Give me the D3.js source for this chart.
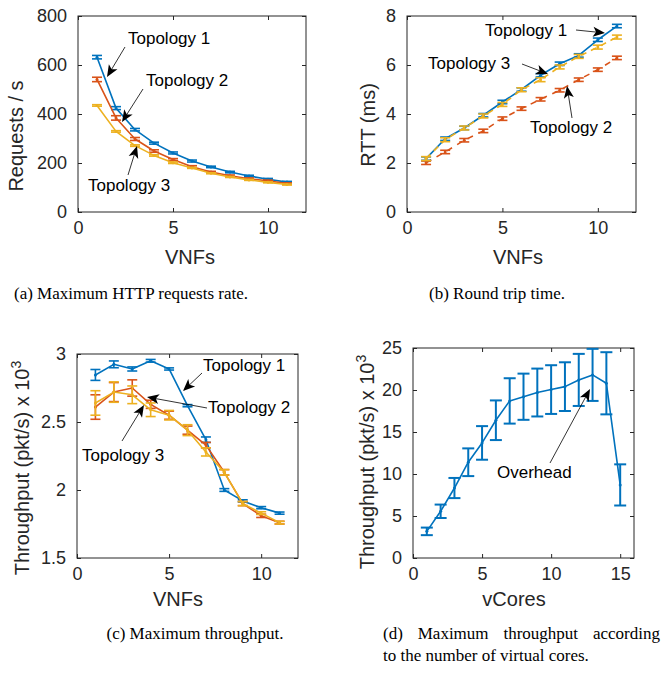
<!DOCTYPE html>
<html><head><meta charset="utf-8">
<script src="https://cdn.jsdelivr.net/npm/d3@7"></script>
<style>body{margin:0;background:#fff}svg{display:block}</style>
</head><body>
<script>
// ---------- DATA ----------
const vnfs = [1,2,3,4,5,6,7,8,9,10,11];
const reqT1 = [632,424,336,281,241,208,184,163,147,134,122];
const reqT2 = [541,384,298,249,214,185,163,148,136,127,116];
const reqT3 = [435,329,271,231,201,180,158,143,131,121,112];
const reqErrT1 = [7,6,5,4,4,4,3,3,3,3,3];
const reqErrT2 = [9,9,6,5,4,4,3,3,3,3,3];
const reqErrT3 = [3,3,3,3,3,2,2,2,2,2,2];

const rttT1 = [2.18,2.99,3.43,3.95,4.49,5.00,5.58,6.05,6.39,7.03,7.59];
const rttT2 = [2.01,2.45,2.93,3.31,3.81,4.22,4.60,4.97,5.40,5.81,6.29];
const rttT3 = [2.18,2.95,3.43,3.92,4.39,4.99,5.40,5.92,6.35,6.73,7.14];
const rttErrT1 = [0.07,0.07,0.07,0.07,0.07,0.07,0.07,0.07,0.07,0.07,0.07];
const rttErrT2 = [0.07,0.07,0.07,0.07,0.07,0.07,0.07,0.07,0.07,0.07,0.07];
const rttErrT3 = [0.08,0.08,0.08,0.08,0.08,0.08,0.08,0.08,0.08,0.08,0.08];

const thrT1 = [2.846,2.924,2.89,2.95,2.89,2.62,2.37,2.00,1.92,1.87,1.83];
const thrT2 = [2.61,2.72,2.75,2.63,2.55,2.44,2.33,2.13,1.90,1.81,1.76];
const thrT3 = [2.64,2.72,2.70,2.59,2.55,2.44,2.28,2.13,1.90,1.83,1.76];
const thrErrT1 = [0.04,0.025,0.015,0.01,0.008,0.008,0.02,0.01,0.008,0.008,0.008];
const thrErrT2 = [0.09,0.07,0.06,0.03,0.03,0.03,0.02,0.02,0.015,0.012,0.01];
const thrErrT3 = [0.09,0.075,0.065,0.05,0.035,0.04,0.03,0.02,0.015,0.01,0.01];

const vcores = [1,2,3,4,5,6,7,8,9,10,11,12,13,14,15];
const coreThr = [3.17,5.56,8.33,11.4,13.7,16.4,18.7,19.2,19.7,20.05,20.4,21.2,21.8,20.8,8.7];
const coreErr = [0.45,0.8,1.2,1.65,2.0,2.36,2.7,2.75,2.85,2.9,2.9,3.1,3.1,3.7,2.45];

const vnfTicks = [0,5,10];
const coreTicks = [0,5,10,15];
const reqTicks = [0,200,400,600,800];
const rttTicks = [0,2,4,6,8];
const thrTicks = [1.5,2,2.5,3];
const coreThrTicks = [0,5,10,15,20,25];

const captions = {
  a: "(a) Maximum HTTP requests rate.",
  b: "(b) Round trip time.",
  c: "(c) Maximum throughput.",
  d1: ["(d)","Maximum","throughput","according"],
  d2: "to the number of virtual cores."
};

// ---------- STYLE ----------
const BLUE = "#0072BD", RED = "#D95319", YEL = "#EDB120", AX = "#262626";
const SANS = "'Liberation Sans', Arial, Helvetica, sans-serif";
const SERIF = "'Liberation Serif', 'Times New Roman', serif";

const svg = d3.select("body").append("svg").attr("width",665).attr("height",675);
const defs = svg.append("defs");

function arrow(g, x1, y1, x2, y2) {
  const ang = Math.atan2(y2-y1, x2-x1);
  const L = 12, W = 5, N = 3;
  const ux = Math.cos(ang), uy = Math.sin(ang);
  const px = -uy, py = ux;
  const bx = x2 - ux*L, by = y2 - uy*L;
  g.append("line").attr("x1",x1).attr("y1",y1).attr("x2",x2-ux*L*0.6).attr("y2",y2-uy*L*0.6)
    .attr("stroke","#000").attr("stroke-width",0.8);
  const p = [[x2,y2],[bx+px*W - ux*0, by+py*W],[bx+ux*N, by+uy*N],[bx-px*W, by-py*W]];
  g.append("path").attr("d","M"+p.map(q=>q.join(",")).join("L")+"Z").attr("fill","#000");
}

function panel(cfg) {
  const g = svg.append("g");
  const x = d3.scaleLinear().domain(cfg.xd).range([cfg.x0, cfg.x1]);
  const y = d3.scaleLinear().domain(cfg.yd).range([cfg.y0, cfg.y1]);
  const tickFont = cfg.tickFont || 18;
  // box
  g.append("rect").attr("x",cfg.x0).attr("y",cfg.y1).attr("width",cfg.x1-cfg.x0).attr("height",cfg.y0-cfg.y1)
    .attr("fill","none").attr("stroke",AX).attr("stroke-width",1);
  // axes (ticks inside)
  const bottom = d3.axisBottom(x).tickValues(cfg.xt).tickSizeInner(-4).tickSizeOuter(0).tickPadding(9).tickFormat(d3.format("~g"));
  const left = d3.axisLeft(y).tickValues(cfg.yt).tickSizeInner(-4).tickSizeOuter(0).tickPadding(11).tickFormat(d3.format("~g"));
  const top = d3.axisTop(x).tickValues(cfg.xt).tickSizeInner(-4).tickSizeOuter(0).tickFormat("");
  const right = d3.axisRight(y).tickValues(cfg.yt).tickSizeInner(-4).tickSizeOuter(0).tickFormat("");
  [[bottom,`translate(0,${cfg.y0})`],[left,`translate(${cfg.x0},0)`],[top,`translate(0,${cfg.y1})`],[right,`translate(${cfg.x1},0)`]]
    .forEach(([ax,tr])=>{
      const a = g.append("g").attr("transform",tr).call(ax);
      a.select(".domain").remove();
      a.selectAll("line").attr("stroke",AX);
      a.selectAll("text").attr("fill",AX).style("font-family",SANS).style("font-size",tickFont+"px");
    });
  // series
  cfg.series.forEach(s=>{
    const pts = cfg.xs.map((v,i)=>[v, s.v[i], s.e[i]]);
    const line = d3.line().x(d=>x(d[0])).y(d=>y(d[1]));
    g.append("path").attr("d",line(pts)).attr("fill","none").attr("stroke",s.c)
      .attr("stroke-width",s.lw||1.6).attr("stroke-dasharray",s.dash||null).attr("stroke-linejoin","round");
    const cw = cfg.cap || 5;
    pts.forEach(d=>{
      const cx = x(d[0]), yt = y(d[1]+d[2]), yb = y(d[1]-d[2]);
      const eb = g.append("g").attr("stroke",s.c).attr("stroke-width",s.ew||1.6);
      eb.append("line").attr("x1",cx).attr("x2",cx).attr("y1",yt).attr("y2",yb);
      eb.append("line").attr("x1",cx-cw).attr("x2",cx+cw).attr("y1",yt).attr("y2",yt);
      eb.append("line").attr("x1",cx-cw).attr("x2",cx+cw).attr("y1",yb).attr("y2",yb);
      g.append("circle").attr("cx",cx).attr("cy",y(d[1])).attr("r",1.5).attr("fill",s.c);
    });
  });
  // labels
  g.append("text").attr("x",cfg.xl[0]).attr("y",cfg.xl[1]).attr("text-anchor","middle")
    .style("font-family",SANS).style("font-size","20px").attr("fill",AX).text(cfg.xlabel);
  const yl = g.append("text").attr("transform",`translate(${cfg.yl[0]},${cfg.yl[1]}) rotate(-90)`)
    .attr("text-anchor","middle").style("font-family",SANS).style("font-size","20px").attr("fill",AX);
  yl.append("tspan").text(cfg.ylabel);
  if (cfg.ysup) yl.append("tspan").attr("dy","-8").style("font-size","14px").text(cfg.ysup);
  // annotations
  (cfg.notes||[]).forEach(n=>{
    g.append("text").attr("x",n.tx).attr("y",n.ty).attr("dominant-baseline","central")
      .style("font-family",SANS).style("font-size","17px").attr("fill","#000").text(n.t);
    arrow(g, n.a[0], n.a[1], n.a[2], n.a[3]);
  });
}

panel({
  x0:78, x1:306, y0:212, y1:16, xd:[0,12], yd:[0,800], xt:vnfTicks, yt:reqTicks, xs:vnfs,
  series:[{v:reqT1,e:reqErrT1,c:BLUE},{v:reqT2,e:reqErrT2,c:RED},{v:reqT3,e:reqErrT3,c:YEL}],
  xlabel:"VNFs", xl:[190,264], ylabel:"Requests / s", yl:[23,136],
  notes:[
    {t:"Topology 1", tx:128, ty:38, a:[125,47,107,77]},
    {t:"Topology 2", tx:146, ty:80, a:[143,89,122,122]},
    {t:"Topology 3", tx:88, ty:185, a:[128,175,137,146]}
  ]
});
panel({
  x0:407, x1:636, y0:212, y1:16, xd:[0,12], yd:[0,8], xt:vnfTicks, yt:rttTicks, xs:vnfs,
  series:[{v:rttT2,e:rttErrT2,c:RED,dash:"6,6"},{v:rttT1,e:rttErrT1,c:BLUE},{v:rttT3,e:rttErrT3,c:YEL,dash:"6,5"}],
  xlabel:"VNFs", xl:[518,264], ylabel:"RTT (ms)", yl:[375,125],
  notes:[
    {t:"Topology 1", tx:485, ty:30, a:[576,30,605,33]},
    {t:"Topology 3", tx:428, ty:63, a:[522,64,548,74]},
    {t:"Topology 2", tx:530, ty:127, a:[572,118,567,86]}
  ]
});
panel({
  x0:77, x1:298, y0:558, y1:354, xd:[0,12], yd:[1.5,3], xt:vnfTicks, yt:thrTicks, xs:vnfs,
  series:[{v:thrT1,e:thrErrT1,c:BLUE},{v:thrT2,e:thrErrT2,c:RED},{v:thrT3,e:thrErrT3,c:YEL}],
  xlabel:"VNFs", xl:[178,606], ylabel:"Throughput (pkt/s) x 10", ysup:"3", yl:[29,468],
  notes:[
    {t:"Topology 1", tx:203, ty:365, a:[202,373,183,391]},
    {t:"Topology 2", tx:208, ty:407, a:[207,408,147,397]},
    {t:"Topology 3", tx:82, ty:455, a:[122,441,144,405]}
  ]
});
panel({
  x0:413, x1:634, y0:558, y1:348, xd:[0,16], yd:[0,25], xt:coreTicks, yt:coreThrTicks, xs:vcores, cap:6,
  series:[{v:coreThr,e:coreErr,c:BLUE,ew:2}],
  xlabel:"vCores", xl:[514,606], ylabel:"Throughput (pkt/s) x 10", ysup:"3", yl:[374,462],
  notes:[
    {t:"Overhead", tx:497, ty:472, a:[550,463,590,389]}
  ]
});

// captions
function cap(txt, x, y, anchor) {
  return svg.append("text").attr("x",x).attr("y",y).attr("text-anchor",anchor||"middle")
    .style("font-family",SERIF).style("font-size","17px").attr("fill","#000").text(txt);
}
cap(captions.a, 131, 299);
cap(captions.b, 497, 299);
cap(captions.c, 195, 639);
// justified first line of (d)
(function(){
  const x0 = 383, x1 = 660, yb = 639;
  const tmp = captions.d1.map(w=>cap(w,0,yb,"start"));
  const widths = tmp.map(t=>t.node().getComputedTextLength());
  const gap = (x1-x0-d3.sum(widths))/(widths.length-1);
  let cx = x0;
  tmp.forEach((t,i)=>{ t.attr("x",cx); cx += widths[i]+gap; });
})();
cap(captions.d2, 383, 661, "start");
</script>
</body></html>
